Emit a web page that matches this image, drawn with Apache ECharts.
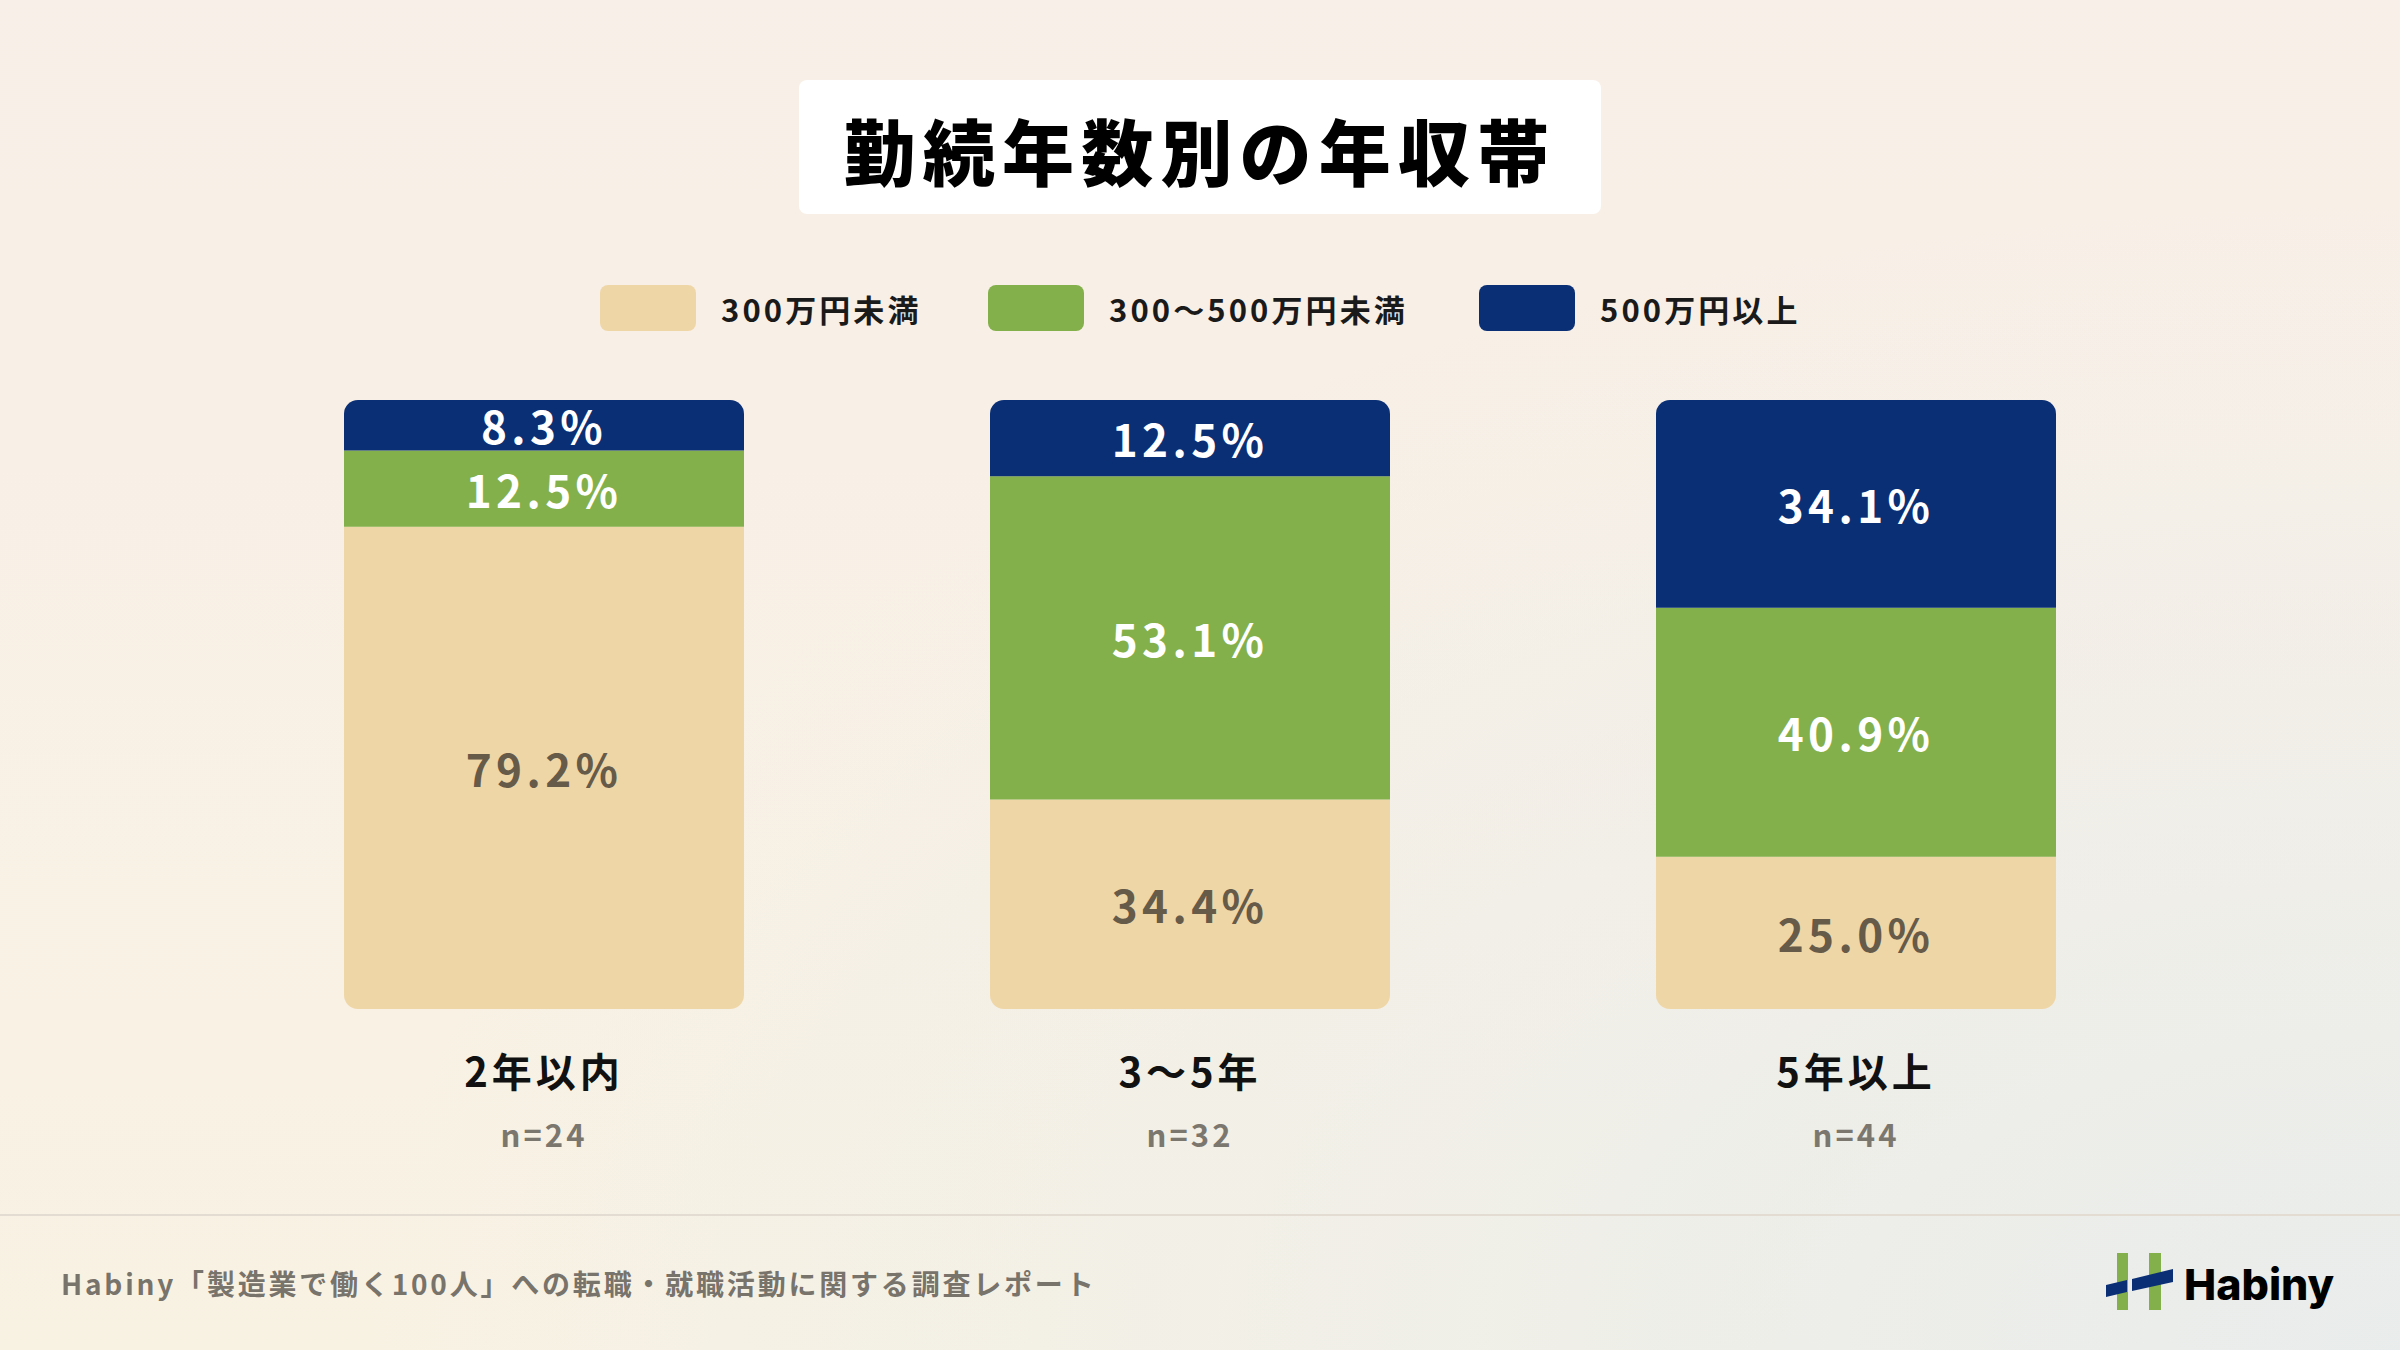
<!DOCTYPE html>
<html lang="ja">
<head>
<meta charset="utf-8">
<title>勤続年数別の年収帯</title>
<script src="https://cdn.jsdelivr.net/npm/echarts@6/dist/echarts.min.js"></script>
<style>
  html, body {
    margin: 0;
    padding: 0;
    width: 2400px;
    height: 1350px;
    overflow: hidden;
  }
  body {
    background:
      radial-gradient(ellipse at 100% 100%, rgba(232, 236, 236, 0.95) 0%, rgba(232, 236, 236, 0) 60%),
      linear-gradient(to bottom, #f8efe8 0%, #f8f2e3 100%);
  }
  #chart {
    width: 2400px;
    height: 1350px;
  }
  /* 文字間隔（SVG レンダラーのテキストに適用） */
  #chart svg text {
    letter-spacing: 0.1em;
  }
  #chart svg text[style*="Inter"] {
    letter-spacing: 0;
  }
</style>
</head>
<body>
<div id="chart"></div>
<script>
  // カテゴリ（勤続年数）とサンプル数
  const categories = ["2年以内", "3〜5年", "5年以上"];
  const sampleSizes = ["n=24", "n=32", "n=44"];

  // 年収帯ごとの割合（%）
  const bandNames = ["300万円未満", "300〜500万円未満", "500万円以上"];
  const under300 = [79.2, 34.4, 25.0];
  const from300to500 = [12.5, 53.1, 40.9];
  const over500 = [8.3, 12.5, 34.1];

  const bandValues = [under300, from300to500, over500];
  const bandColors = ["#efd6a7", "#83b04a", "#0a2f75"];
  const labelColors = ["#665a48", "#ffffff", "#ffffff"];

  const FONT = "'Noto Sans CJK JP', 'Noto Sans', sans-serif";

  // 各棒の配置（px）
  const barLefts = [344, 990, 1656];
  const barWidth = 400;
  const legendLefts = [600, 988, 1479];

  const chart = echarts.init(document.getElementById("chart"), null, {
    renderer: "svg",
  });

  const grids = barLefts.map((left) => ({
    left: left,
    width: barWidth,
    top: 400,
    height: 609,
  }));

  const xAxes = categories.map((cat, i) => ({
    type: "category",
    gridIndex: i,
    data: [cat],
    axisLine: { show: false },
    axisTick: { show: false },
    axisLabel: {
      margin: 31,
      formatter: () => "{a|" + cat + "}\n{b|" + sampleSizes[i] + "}",
      rich: {
        a: {
          fontFamily: FONT,
          fontSize: 40,
          fontWeight: "bold",
          color: "#111111",
          lineHeight: 60,
        },
        b: {
          fontFamily: FONT,
          fontSize: 31,
          fontWeight: "bold",
          color: "#7b776f",
          lineHeight: 66,
        },
      },
    },
  }));

  const yAxes = categories.map((cat, i) => ({
    type: "value",
    gridIndex: i,
    min: 0,
    max: 100,
    show: false,
  }));

  // 角丸は一番上と一番下のセグメントだけ
  const radiusFor = (s) => {
    if (s === 0) return [0, 0, 14, 14];
    if (s === bandNames.length - 1) return [14, 14, 0, 0];
    return 0;
  };

  const series = [];
  categories.forEach((cat, g) => {
    bandNames.forEach((name, s) => {
      series.push({
        type: "bar",
        name: name,
        xAxisIndex: g,
        yAxisIndex: g,
        stack: "g" + g,
        barWidth: "100%",
        data: [bandValues[s][g]],
        itemStyle: {
          color: bandColors[s],
          borderRadius: radiusFor(s),
        },
        label: {
          show: true,
          position: "inside",
          formatter: (p) => p.value.toFixed(1) + "%",
          fontFamily: FONT,
          fontSize: 44,
          fontWeight: "bold",
          color: labelColors[s],
        },
        emphasis: { disabled: true },
      });
    });
  });

  const iconPath =
    "path://M8,0 H88 A8,8 0 0 1 96,8 V38 A8,8 0 0 1 88,46 H8 A8,8 0 0 1 0,38 V8 A8,8 0 0 1 8,0 Z";

  const legends = bandNames.map((name, i) => ({
    data: [{ name: name, icon: iconPath }],
    left: legendLefts[i],
    top: 285,
    padding: 0,
    itemWidth: 96,
    itemHeight: 46,
    selectedMode: false,
    textStyle: {
      fontFamily: FONT,
      fontSize: 31,
      fontWeight: "bold",
      color: "#1a1a1a",
      padding: [0, 0, 0, 20],
    },
  }));

  const option = {
    animation: false,
    backgroundColor: "transparent",
    textStyle: { fontFamily: FONT },
    grid: grids,
    xAxis: xAxes,
    yAxis: yAxes,
    legend: legends,
    series: series,
    graphic: [
      // タイトルボックス
      {
        type: "rect",
        shape: { x: 799, y: 80, width: 802, height: 134, r: 8 },
        style: { fill: "#ffffff" },
        silent: true,
      },
      {
        type: "text",
        x: 1200,
        y: 148,
        style: {
          text: "勤続年数別の年収帯",
          fontFamily: FONT,
          fontSize: 72,
          fontWeight: 900,
          fill: "#000000",
          align: "center",
          verticalAlign: "middle",
        },
        silent: true,
      },
      // フッターの区切り線
      {
        type: "line",
        shape: { x1: 0, y1: 1215, x2: 2400, y2: 1215 },
        style: { stroke: "#e2dcd2", lineWidth: 2 },
        silent: true,
      },
      {
        type: "text",
        x: 61,
        y: 1283,
        style: {
          text: "Habiny「製造業で働く100人」への転職・就職活動に関する調査レポート",
          fontFamily: FONT,
          fontSize: 28,
          fontWeight: "bold",
          fill: "#78736b",
          align: "left",
          verticalAlign: "middle",
        },
        silent: true,
      },
      // ロゴ
      {
        type: "group",
        silent: true,
        children: [
          {
            type: "rect",
            shape: { x: 2117, y: 1253, width: 11, height: 57 },
            style: { fill: "#83b04a" },
          },
          {
            type: "rect",
            shape: { x: 2149, y: 1253, width: 12, height: 57 },
            style: { fill: "#83b04a" },
          },
          {
            type: "polygon",
            shape: { points: [[2106, 1285], [2127, 1280], [2127, 1292], [2106, 1297]] },
            style: { fill: "#0a2f75" },
          },
          {
            type: "polygon",
            shape: { points: [[2132, 1279], [2173, 1269], [2173, 1282], [2132, 1291]] },
            style: { fill: "#0a2f75" },
          },
          {
            type: "text",
            x: 2184,
            y: 1284,
            style: {
              text: "Habiny",
              fontFamily: "Inter",
              fontSize: 43,
              fontWeight: 800,
              fill: "#000000",
              align: "left",
              verticalAlign: "middle",
            },
          },
        ],
      },
    ],
  };

  chart.setOption(option);

  window.addEventListener("resize", () => {
    chart.resize();
  });
</script>
</body>
</html>
